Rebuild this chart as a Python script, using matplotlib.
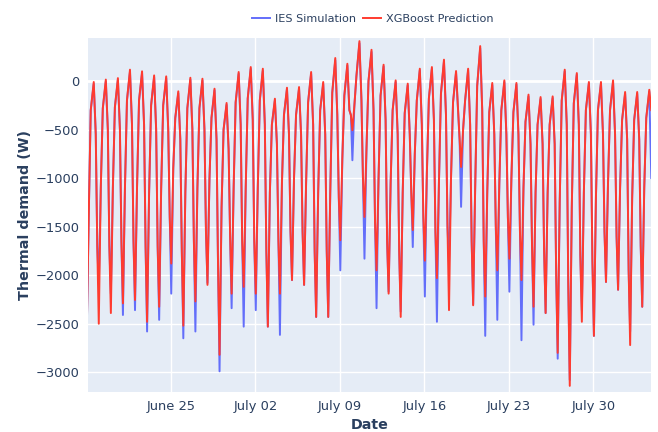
import numpy as np
import matplotlib
matplotlib.use("Agg")
import matplotlib.pyplot as plt

# ---------------- data ----------------
series_names = ["IES Simulation", "XGBoost Prediction"]
first_day = "2023-06-18"

# daily afternoon peak (~15:00), W
ies_peak = [-30, -5, 10, 95, 80, 40, 30, -125, 15, 5, -95, -245, 75, 125, 105, -200,
            -85, -80, 75, -30, 215, 160, 390, 300, 150, -10, -45, 110, 125, 200, 85,
            110, 340, -40, -10, -35, -160, -185, -175, 100, 65, -25, -25, -10, -130,
            -130, -110]
xgb_peak = [-10, 15, 30, 117, 100, 58, 48, -106, 34, 24, -79, -226, 93, 144, 127, -182,
            -69, -62, 93, -10, 237, 178, 411, 322, 168, 7, -27, 127, 144, 220, 103,
            127, 360, -20, 7, -20, -140, -165, -158, 117, 82, -10, -10, 7, -113, -113,
            -90]
# nightly trough (~01:00), W
ies_trough = [-2600, -2100, -2190, -2410, -2360, -2580, -2460, -2190, -2650, -2580, -2080,
              -2990, -2340, -2530, -2360, -2530, -2615, -2050, -2100, -2430, -2430, -1950,
              -816, -1830, -2340, -2170, -2375, -1710, -2220, -2480, -1880, -1296, -2300,
              -2625, -2460, -2170, -2670, -2510, -2390, -2860, -3080, -2360, -2625, -2070,
              -2150, -2580, -2325]
xgb_trough = [-2600, -2500, -2390, -2290, -2255, -2480, -2325, -1880, -2520, -2270, -2100,
              -2820, -2190, -2120, -2190, -2530, -2190, -2050, -2100, -2430, -2430, -1640,
              -507, -1400, -1950, -2190, -2430, -1535, -1850, -2030, -2360, -885, -2310,
              -2220, -1950, -1830, -2050, -2325, -2390, -2800, -3140, -2480, -2625, -2070,
              -2150, -2720, -2325]
# intermediate values shared by both series (05:00, 09:00, 19:00, 22:00), W
dawn = [-1400, -1100, -1100, -1100, -1100, -1150, -1100, -900, -1150, -1100, -1000,
        -1300, -1100, -1100, -1100, -1150, -1050, -1000, -1050, -1150, -1150, -800,
        -250, -700, -1000, -1050, -1150, -750, -950, -1050, -1000, -500, -1100, -1150,
        -1050, -1000, -1100, -1150, -1150, -1250, -1300, -1150, -1200, -1050, -1100,
        -1200, -1100]
morn = [-300, -280, -270, -200, -200, -250, -250, -380, -280, -280, -380, -500, -220,
        -180, -200, -450, -350, -350, -220, -300, -120, -150, 50, 0, -150, -300, -330,
        -200, -180, -130, -220, -200, -50, -320, -300, -320, -420, -450, -450, -200,
        -230, -300, -300, -300, -400, -400, -380]
dusk = [-550, -500, -500, -450, -450, -500, -500, -600, -500, -500, -600, -700, -450,
        -400, -450, -650, -550, -550, -450, -550, -350, -300, -200, -300, -400, -550,
        -550, -450, -400, -350, -300, -450, -300, -550, -550, -550, -650, -650, -650,
        -450, -450, -550, -550, -550, -600, -600]
shoulder = [-1700, -1700, -1650, -1650, -1700, -1700, -1400, -1750, -1650, -1550, -1900,
            -1600, -1650, -1650, -1750, -1650, -1550, -1550, -1750, -1750, -1200, -350,
            -1000, -1450, -1650, -1750, -1150, -1400, -1550, -1500, -600, -1650, -1650,
            -1500, -1400, -1550, -1700, -1750, -2000, -2100, -1800, -1850, -1550, -1600,
            -1950, -1700]
ies_end = -1000
xgb_end = -300

y_ticks = [0, -500, -1000, -1500, -2000, -2500, -3000]
x_tick_dates = ["2023-06-25", "2023-07-02", "2023-07-09", "2023-07-16", "2023-07-23",
                "2023-07-30"]
x_tick_labels = ["June 25", "July 02", "July 09", "July 16", "July 23", "July 30"]

# ---------------- build the series ----------------
hours = [1, 5, 9, 15, 19, 22]
start = np.datetime64(first_day + "T00:00")
t, ies, xgb = [], [], []
n = len(ies_peak)
for d in range(n):
    base = start + np.timedelta64(d, "D")
    vi = [ies_trough[d], dawn[d], morn[d], ies_peak[d]]
    vx = [xgb_trough[d], dawn[d], morn[d], xgb_peak[d]]
    if d < n - 1:
        vi += [dusk[d], shoulder[d]]
        vx += [dusk[d], shoulder[d]]
    else:
        vi += [ies_end]
        vx += [xgb_end]
    for h, a, b in zip(hours, vi, vx):
        t.append(base + np.timedelta64(h, "h"))
        ies.append(a)
        xgb.append(b)
t = np.array(t)

# ---------------- figure ----------------
txt = "#2a3f5f"
fig = plt.figure(figsize=(6.58, 4.32), dpi=100)
ax = fig.add_axes([0.1333, 0.0933, 0.8565, 0.818])
ax.set_facecolor("#E5ECF6")
l1, = ax.plot(t, ies, color="#636EFA", lw=1.4, zorder=3)
l2, = ax.plot(t, xgb, color="#FF3B2F", lw=1.4, zorder=4)

ax.set_xlim(start + np.timedelta64(3, "h"), t[-1])
ax.set_ylim(-3200, 440)
ax.set_yticks(y_ticks)
ax.set_xticks([np.datetime64(s + "T00:00") for s in x_tick_dates])
ax.set_xticklabels(x_tick_labels)
ax.grid(True, color="white", lw=1)
ax.axhline(0, color="white", lw=2, zorder=1)
ax.set_axisbelow(True)
for s in ax.spines.values():
    s.set_visible(False)
ax.tick_params(length=0, labelsize=9.4, labelcolor=txt, pad=6)

ax.set_xlabel("Date", fontsize=10.3, fontweight="bold", color=txt)
ax.xaxis.set_label_coords(0.5, -0.074)
ax.set_ylabel("Thermal demand (W)", fontsize=10.3, fontweight="bold", color=txt)
ax.yaxis.set_label_coords(-0.099, 0.5)

fig.legend([l1, l2], series_names, loc="center", bbox_to_anchor=(0.567, 0.956), ncol=2,
           frameon=False, fontsize=8.1, handlelength=1.6, handletextpad=0.45,
           columnspacing=0.6, labelcolor=txt)

fig.savefig("out.png", dpi=100, facecolor="white")
